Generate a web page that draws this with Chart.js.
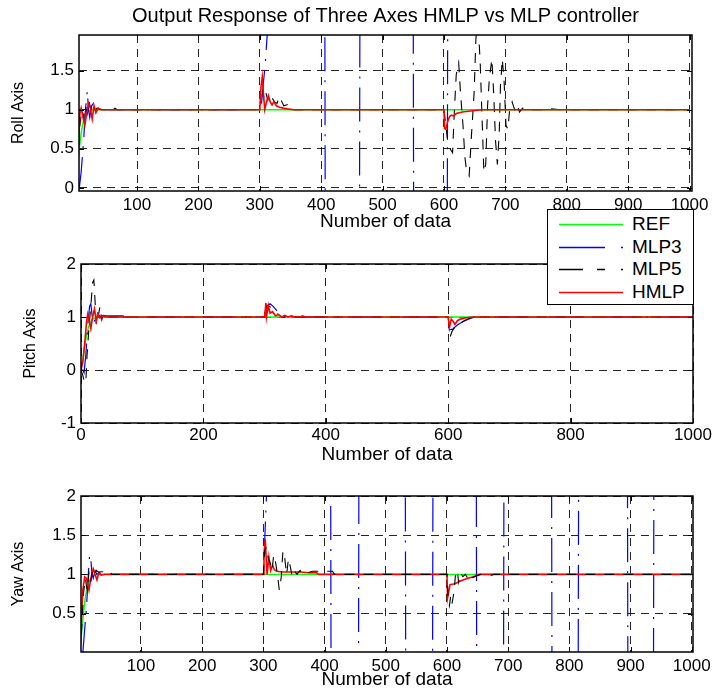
<!DOCTYPE html>
<html>
<head>
<meta charset="utf-8">
<title>Output Response of Three Axes HMLP vs MLP controller</title>
<script src="https://cdn.jsdelivr.net/npm/chart.js@4.4.1/dist/chart.umd.min.js"></script>
<style>
  html, body { margin: 0; padding: 0; background: #fff; }
  #wrap { position: relative; width: 715px; height: 695px; overflow: hidden;
          font-family: "Liberation Sans", Arial, Helvetica, sans-serif; }
  #wrap canvas { position: absolute; left: 0; }
  #legend { position: absolute; left: 547px; top: 209px; width: 147px; height: 96px;
            box-sizing: border-box; border: 1px solid #000; background: #fff; }
  #legend .row { position: absolute; left: 0; width: 145px; height: 22px; }
  #legend svg { position: absolute; left: 11px; top: 0; }
  #legend span { position: absolute; left: 84px; top: 0; line-height: 22px; font-size: 19px; color: #000; }
</style>
</head>
<body>
<div id="wrap">
  <canvas id="rollChart" width="715" height="236" style="top:0px"></canvas>
  <canvas id="pitchChart" width="715" height="234" style="top:236px"></canvas>
  <canvas id="yawChart" width="715" height="225" style="top:470px"></canvas>
  <div id="legend"></div>
</div>
<script>
// ---- data (x = sample number, y = axis output) ----
const titleText = 'Output Response of Three Axes HMLP vs MLP controller';
const seriesNames = ['REF', 'MLP3', 'MLP5', 'HMLP'];

const xTicksRoll = [100, 200, 300, 400, 500, 600, 700, 800, 900, 1000];
const xTicksPitch = [0, 200, 400, 600, 800, 1000];
const xTicksYaw = [100, 200, 300, 400, 500, 600, 700, 800, 900, 1000];
const yTicksRoll = [0, 0.5, 1, 1.5];
const yTicksPitch = [-1, 0, 1, 2];
const yTicksYaw = [0.5, 1, 1.5, 2];

const rollREF = [[1,0],[3,0.25],[6,0.5],[9,0.7],[12,0.83],[15,0.91],[19,0.96],[24,0.99],[30,1],[1000,1]];
const rollMLP3 = [[1,0],[6,0],[9,0.2],[13,0.6],[16,1.0],[19,1.24],[21,1.0],[23,0.9],[26,1.05],[29,1.08],
  [32,0.98],[35,1.03],[40,1.0],[300,1],[303,1.1],[306,1.35],[309,1.6],[312,1.95],[315,3],[320,6],
  [405,6],[408,-6],[461,-6],[464,6],[549,6],[552,-6],[604,-6],[607,6],[1000,6]];
const rollMLP5 = [[1,0],[4,0.3],[7,0.8],[10,1.0],[13,0.9],[16,1.05],[19,0.95],[22,1.1],[25,1.0],[28,1.06],
  [31,1.0],[35,1.02],[40,1.0],[60,1.0],[64,1.02],[68,1.0],[300,1],[302,1.2],[304,1.28],[306,1.15],
  [309,1.25],[313,1.12],[317,1.2],[320,1.15],[324,1.1],[328,1.08],[332,1.17],[336,1.1],[339,1.05],
  [343,1.06],[347,1.07],[352,1.0],[370,1.0],[374,1.01],[378,1.0],[600,1.0],[603,0.8],[606,0.6],
  [610,0.5],[614,0.45],[617,1.0],[620,1.45],[624,1.6],[627,1.2],[631,0.8],[634,0.4],[637,0.2],
  [641,0.15],[645,0.7],[649,1.2],[652,1.9],[655,2.2],[659,1.6],[662,0.9],[665,0.2],[668,0.3],
  [671,1.05],[674,1.4],[678,1.65],[681,1.2],[684,0.6],[687,0.3],[690,0.7],[692,1.3],[695,1.65],
  [698,1.35],[701,0.8],[704,0.75],[707,1.0],[711,1.1],[715,1.0],[719,1.07],[723,0.97],[728,1.02],
  [735,1.0],[760,1.0],[775,1.01],[790,1.0],[1000,1.0]];
const rollHMLP = [[1,0],[3,0.2],[5,0.6],[7,0.95],[9,1.02],[12,0.9],[15,0.8],[18,0.95],[21,1.08],[24,1.02],
  [27,0.88],[30,1.05],[33,0.96],[37,1.02],[42,1.0],[300,1],[302,1.3],[304,1.42],[306,1.2],[308,1.0],
  [311,1.1],[314,1.18],[317,1.1],[320,1.06],[323,1.1],[327,1.05],[332,1.03],[338,1.02],[345,1.01],
  [355,1.0],[600,1],[601,0.76],[603,0.75],[606,0.85],[609,0.91],[612,0.93],[616,0.92],[620,0.95],
  [630,0.97],[640,0.98],[650,0.99],[662,1.0],[1000,1]];

const pitchREF = [[0,0],[3,0.2],[6,0.45],[9,0.65],[12,0.8],[15,0.9],[18,0.95],[22,0.98],[27,1],[1000,1]];
const pitchMLP3 = [[0,0],[3,0],[5,-0.05],[8,0.3],[11,0.85],[14,1.2],[16,1.25],[18,1.05],[20,0.87],[23,0.95],
  [26,1.1],[29,1.04],[33,1.0],[36,1.03],[40,1.02],[69,1.02],[70,1.0],[300,1],[303,1.2],[309,1.25],
  [314,1.2],[320,1.12],[328,1.0],[600,1],[602,0.76],[607,0.77],[615,0.85],[625,0.92],[635,0.97],
  [644,1.0],[1000,1]];
const pitchMLP5 = [[0,0],[3,-0.1],[6,-0.25],[8,-0.2],[10,0.3],[13,0.8],[16,1.2],[19,1.65],[21,1.7],[23,1.3],
  [25,0.85],[28,1.0],[31,1.2],[34,0.95],[37,1.08],[40,1.02],[45,1.0],[300,1],[302,1.27],[304,1.0],
  [306,1.22],[310,1.18],[316,1.12],[322,1.05],[328,1.0],[600,1],[602,0.72],[604,0.65],[606,0.72],
  [610,0.8],[618,0.87],[628,0.94],[640,1.0],[1000,1]];
const pitchHMLP = [[0,0],[3,0.15],[6,0.5],[9,0.9],[11,1.05],[13,0.95],[16,0.78],[19,1.0],[22,1.15],[25,0.92],
  [28,1.05],[31,0.98],[35,1.02],[40,1.0],[300,1],[302,1.25],[303,1.0],[306,1.22],[309,1.07],[313,1.1],
  [318,1.02],[322,1.05],[328,1.0],[333,1.03],[338,1.0],[344,1.02],[350,1.0],[358,1.0],[362,1.02],
  [366,1.0],[600,1],[602,0.8],[605,0.96],[608,0.92],[611,0.86],[615,0.93],[620,0.96],[628,0.98],
  [640,1.0],[1000,1]];

const yawREF = [[0,0],[3,0.25],[6,0.5],[9,0.7],[12,0.83],[15,0.91],[19,0.96],[24,0.99],[30,1],[1000,1]];
const yawMLP3 = [[0,0],[5,0],[8,0.3],[11,0.58],[14,1.0],[16,1.25],[18,1.2],[20,1.0],[22,0.95],[25,1.05],
  [28,1.0],[32,1.02],[36,1.0],[300,1],[302,1.4],[305,2.0],[308,3],[312,6],[409,6],[412,-6],[454,-6],
  [457,6],[531,6],[534,-6],[575,-6],[578,6],[647,6],[650,-6],[691,-6],[694,6],[770,6],[773,-6],
  [813,-6],[816,6],[894,6],[897,-6],[936,-6],[939,6],[1002,6]];
const yawMLP5 = [[0,0],[3,0.3],[6,0.75],[9,0.95],[12,0.8],[15,1.02],[18,0.9],[21,1.06],[24,1.0],[27,1.05],
  [30,1.03],[50,1.04],[52,1.0],[300,1],[302,1.3],[305,1.35],[308,1.2],[311,1.15],[314,1.05],[317,1.25],
  [320,1.15],[323,1.0],[326,0.8],[329,0.95],[332,1.3],[335,1.2],[338,1.0],[341,1.2],[344,1.1],
  [347,0.98],[350,1.05],[355,1.0],[360,1.05],[365,1.0],[372,1.02],[380,1.04],[413,1.04],[416,1.0],
  [600,1],[602,0.68],[604,0.6],[606,0.72],[608,0.62],[611,0.75],[614,1.0],[617,1.05],[619,0.9],
  [622,1.02],[626,0.97],[630,1.0],[634,0.95],[638,1.0],[642,0.96],[648,0.98],[655,1.0],[662,0.99],
  [673,0.99],[676,1.0],[1002,1]];
const yawHMLP = [[0,0],[2,0.3],[5,0.8],[8,0.97],[11,0.95],[15,0.8],[18,0.95],[22,1.07],[25,1.0],[28,0.93],
  [31,1.02],[35,0.99],[40,1.0],[300,1],[301,1.2],[303,1.45],[306,1.0],[309,1.22],[312,1.05],[315,1.12],
  [318,1.06],[322,1.04],[330,1.03],[360,1.03],[375,1.02],[387,1.02],[390,1.0],[600,1],[601,0.7],
  [605,0.87],[613,0.88],[623,0.92],[634,0.95],[643,0.97],[653,1.0],[1002,1]];

// ---- styles ----
const fontFamily = '"Liberation Sans", Arial, Helvetica, sans-serif';
const seriesColors = ['#00ff00', '#0000ff', '#000000', '#ff0000'];
const seriesDash = [[], [34, 9, 2, 9], [10, 9], []];
const seriesWidth = [1.4, 1.2, 1.1, 1.6];

function toPoints(pairs) {
    return pairs.map(p => ({ x: p[0], y: p[1] }));
}

// MATLAB style box with inward tick marks
const axesBox = {
    id: 'axesBox',
    afterDraw(chart) {
        const { ctx, chartArea: a, scales } = chart;
        ctx.save();
        ctx.strokeStyle = '#000';
        ctx.lineWidth = 1;
        ctx.beginPath();
        scales.x.ticks.forEach(t => {
            const px = Math.round(scales.x.getPixelForValue(t.value)) + 0.5;
            ctx.moveTo(px, a.bottom); ctx.lineTo(px, a.bottom - 5);
            ctx.moveTo(px, a.top); ctx.lineTo(px, a.top + 5);
        });
        scales.y.ticks.forEach(t => {
            const py = Math.round(scales.y.getPixelForValue(t.value)) + 0.5;
            ctx.moveTo(a.left, py); ctx.lineTo(a.left + 5, py);
            ctx.moveTo(a.right, py); ctx.lineTo(a.right - 5, py);
        });
        ctx.stroke();
        ctx.lineWidth = 1.5;
        ctx.strokeRect(a.left, a.top, a.right - a.left, a.bottom - a.top);
        ctx.restore();
    }
};

function createChart(id, cfg) {
    const datasets = cfg.series.map((data, i) => ({
        label: seriesNames[i],
        data: toPoints(data),
        borderColor: seriesColors[i],
        backgroundColor: seriesColors[i],
        borderWidth: seriesWidth[i],
        borderDash: seriesDash[i],
        pointRadius: 0,
        fill: false,
        tension: 0,
        order: cfg.order[i]
    }));

    new Chart(document.getElementById(id), {
        type: 'line',
        data: { datasets: datasets },
        options: {
            responsive: false,
            animation: false,
            events: [],
            layout: { padding: { top: cfg.padTop, right: 715 - cfg.right, left: 0, bottom: 0 } },
            plugins: {
                legend: { display: false },
                tooltip: { enabled: false },
                title: cfg.title ? {
                    display: true,
                    text: cfg.title,
                    color: '#000',
                    fullSize: false,
                    font: { family: fontFamily, size: 20, weight: 'normal' },
                    padding: { top: 4, bottom: 7 }
                } : { display: false }
            },
            scales: {
                x: {
                    type: 'linear',
                    min: cfg.xMin,
                    max: cfg.xMax,
                    afterBuildTicks: s => { s.ticks = cfg.xTicks.map(v => ({ value: v })); },
                    afterFit: s => { s.height = cfg.xAxisH; },
                    grid: { color: 'rgba(0,0,0,0.85)', lineWidth: 1, drawTicks: false },
                    border: { display: false, dash: [8, 6] },
                    ticks: {
                        color: '#000', padding: cfg.xTickPad, maxRotation: 0, autoSkip: false,
                        font: { family: fontFamily, size: 17 },
                        callback: v => String(v)
                    },
                    title: {
                        display: true, text: 'Number of data', color: '#000',
                        font: { family: fontFamily, size: 19 },
                        padding: { top: 0, bottom: cfg.xTitlePad }
                    }
                },
                y: {
                    min: cfg.yMin,
                    max: cfg.yMax,
                    afterBuildTicks: s => { s.ticks = cfg.yTicks.map(v => ({ value: v })); },
                    afterFit: s => { s.width = cfg.left; },
                    grid: { color: 'rgba(0,0,0,0.85)', lineWidth: 1, drawTicks: false },
                    border: { display: false, dash: [8, 6] },
                    ticks: {
                        color: '#000', padding: 5,
                        font: { family: fontFamily, size: 17 },
                        callback: v => String(v)
                    },
                    title: {
                        display: true, text: cfg.yTitle, color: '#000',
                        font: { family: fontFamily, size: 16 },
                        padding: { top: cfg.yTitlePad, bottom: 0 }
                    }
                }
            }
        },
        plugins: [axesBox]
    });
}

createChart('rollChart', {
    title: titleText,
    series: [rollREF, rollMLP3, rollMLP5, rollHMLP],
    order: [4, 3, 2, 1],
    xMin: 5.5, xMax: 1004, xTicks: xTicksRoll,
    yMin: -0.04, yMax: 1.955, yTicks: yTicksRoll,
    yTitle: 'Roll Axis', yTitlePad: 9,
    padTop: 0, left: 79, right: 692, xAxisH: 45, xTickPad: 4, xTitlePad: 3
});

createChart('pitchChart', {
    series: [pitchREF, pitchMLP3, pitchMLP5, pitchHMLP],
    order: [4, 3, 2, 1],
    xMin: 0, xMax: 1000, xTicks: xTicksPitch,
    yMin: -1, yMax: 2, yTicks: yTicksPitch,
    yTitle: 'Pitch Axis', yTitlePad: 21,
    padTop: 28, left: 81, right: 693, xAxisH: 47, xTickPad: 2, xTitlePad: 4
});

createChart('yawChart', {
    series: [yawREF, yawMLP3, yawMLP5, yawHMLP],
    order: [4, 3, 1, 2],
    xMin: 2, xMax: 1002, xTicks: xTicksYaw,
    yMin: 0.01, yMax: 2, yTicks: yTicksYaw,
    yTitle: 'Yaw Axis', yTitlePad: 9,
    padTop: 26, left: 81, right: 693, xAxisH: 43, xTickPad: 4, xTitlePad: 4
});

// legend box (shared by the three plots)
const legendDash = ['', '46 16 2 10', '24 14 8 16 2 10', ''];
const legendTops = [3, 26, 48, 71];
const legend = document.getElementById('legend');
seriesNames.forEach((name, i) => {
    const row = document.createElement('div');
    row.className = 'row';
    row.style.top = legendTops[i] + 'px';
    row.innerHTML = '<svg width="66" height="22"><line x1="0" y1="11.5" x2="64" y2="11.5" stroke="' +
        seriesColors[i] + '" stroke-width="1.5"' +
        (legendDash[i] ? ' stroke-dasharray="' + legendDash[i] + '"' : '') + '/></svg>' +
        '<span>' + name + '</span>';
    legend.appendChild(row);
});
</script>
</body>
</html>
